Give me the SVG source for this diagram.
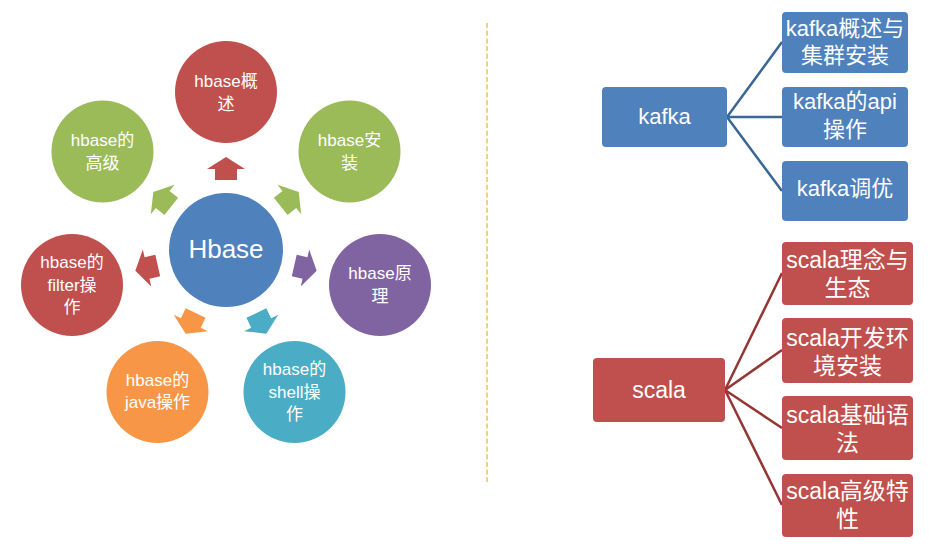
<svg xmlns="http://www.w3.org/2000/svg" width="946" height="560" viewBox="0 0 946 560">
<style>
text{font-family:"Liberation Sans","Noto Sans CJK SC",sans-serif;fill:#fff;text-anchor:middle}
.c{font-size:17px}
.b{font-size:22px}
.s{font-size:23px}
.red{fill:#C0504D}.green{fill:#9BBB59}.purple{fill:#8064A2}.cyan{fill:#4BACC6}.orange{fill:#F79646}.blue{fill:#4F81BD}
.kl{stroke:#3A6797;stroke-width:2.5;fill:none}
.sl{stroke:#933634;stroke-width:2.5;fill:none}
</style>
<defs>
<path id="arr" d="M70,-11 L81,-11 L81,-19 L93,0 L81,19 L81,11 L70,11 Z"/>
</defs>
<rect width="946" height="560" fill="#fff"/>
<line x1="487" y1="23" x2="487" y2="482" stroke="#F2C14E" stroke-width="1.5" stroke-dasharray="5,2.7"/>
<g id="connectors">
<use href="#arr" class="red" transform="translate(226,250) rotate(-90)"/>
<use href="#arr" class="green" transform="translate(226,250) rotate(-38.57)"/>
<use href="#arr" class="purple" transform="translate(226,250) rotate(12.86)"/>
<use href="#arr" class="cyan" transform="translate(226,250) rotate(64.29)"/>
<use href="#arr" class="orange" transform="translate(226,250) rotate(115.71)"/>
<use href="#arr" class="red" transform="translate(226,250) rotate(167.14)"/>
<use href="#arr" class="green" transform="translate(226,250) rotate(218.57)"/>
<path class="kl" d="M727,117 L782,42 M727,117 L782,117 M727,117 L782,191"/>
<path class="sl" d="M725,390 L782,273 M725,390 L782,350 M725,390 L782,428 M725,390 L782,505"/>
</g>
<g id="hbase">
<circle cx="226" cy="250" r="57" class="blue"/>
<text x="226" y="258" style="font-size:26px">Hbase</text>
</g>
<g id="n-gaishu">
<circle cx="226" cy="92" r="51" class="red"/>
<text class="c" x="226"><tspan x="226" y="87">hbase概</tspan><tspan x="226" y="110">述</tspan></text>
</g>
<g id="n-anzhuang">
<circle cx="349.5" cy="151.5" r="51" class="green"/>
<text class="c"><tspan x="349.5" y="146">hbase安</tspan><tspan x="349.5" y="169">装</tspan></text>
</g>
<g id="n-yuanli">
<circle cx="380" cy="285" r="51" class="purple"/>
<text class="c"><tspan x="380" y="279">hbase原</tspan><tspan x="380" y="302">理</tspan></text>
</g>
<g id="n-shell">
<circle cx="294.5" cy="392" r="51" class="cyan"/>
<text class="c"><tspan x="294.5" y="375">hbase的</tspan><tspan x="294.5" y="398">shell操</tspan><tspan x="294.5" y="420">作</tspan></text>
</g>
<g id="n-java">
<circle cx="157.5" cy="392" r="51" class="orange"/>
<text class="c"><tspan x="157.5" y="386">hbase的</tspan><tspan x="157.5" y="408">java操作</tspan></text>
</g>
<g id="n-filter">
<circle cx="72" cy="285" r="51" class="red"/>
<text class="c"><tspan x="72" y="268">hbase的</tspan><tspan x="72" y="291">filter操</tspan><tspan x="72" y="313">作</tspan></text>
</g>
<g id="n-gaoji">
<circle cx="102.5" cy="151.5" r="51" class="green"/>
<text class="c"><tspan x="102.5" y="146">hbase的</tspan><tspan x="102.5" y="169">高级</tspan></text>
</g>
<g id="kafka">
<rect x="602" y="87" width="125" height="60" rx="4" class="blue"/>
<text class="b" x="664.5" y="124">kafka</text>
</g>
<g id="k1">
<rect x="782" y="12" width="126" height="61" rx="4" class="blue"/>
<text class="b"><tspan x="845" y="36">kafka概述与</tspan><tspan x="845" y="63">集群安装</tspan></text>
</g>
<g id="k2">
<rect x="782" y="87" width="126" height="60" rx="4" class="blue"/>
<text class="b"><tspan x="845" y="109">kafka的api</tspan><tspan x="845" y="137">操作</tspan></text>
</g>
<g id="k3">
<rect x="782" y="161" width="126" height="60" rx="4" class="blue"/>
<text class="b" x="845" y="196">kafka调优</text>
</g>
<g id="scala">
<rect x="593" y="358" width="132" height="64" rx="4" class="red"/>
<text class="s" x="659" y="398">scala</text>
</g>
<g id="s1">
<rect x="782" y="242" width="131" height="63" rx="4" class="red"/>
<text class="s"><tspan x="847.5" y="268">scala理念与</tspan><tspan x="847.5" y="296">生态</tspan></text>
</g>
<g id="s2">
<rect x="782" y="318" width="131" height="65" rx="4" class="red"/>
<text class="s"><tspan x="847.5" y="346">scala开发环</tspan><tspan x="847.5" y="374">境安装</tspan></text>
</g>
<g id="s3">
<rect x="782" y="396" width="131" height="64" rx="4" class="red"/>
<text class="s"><tspan x="847.5" y="423">scala基础语</tspan><tspan x="847.5" y="451">法</tspan></text>
</g>
<g id="s4">
<rect x="782" y="474" width="131" height="63" rx="4" class="red"/>
<text class="s"><tspan x="847.5" y="499">scala高级特</tspan><tspan x="847.5" y="527">性</tspan></text>
</g>
</svg>
